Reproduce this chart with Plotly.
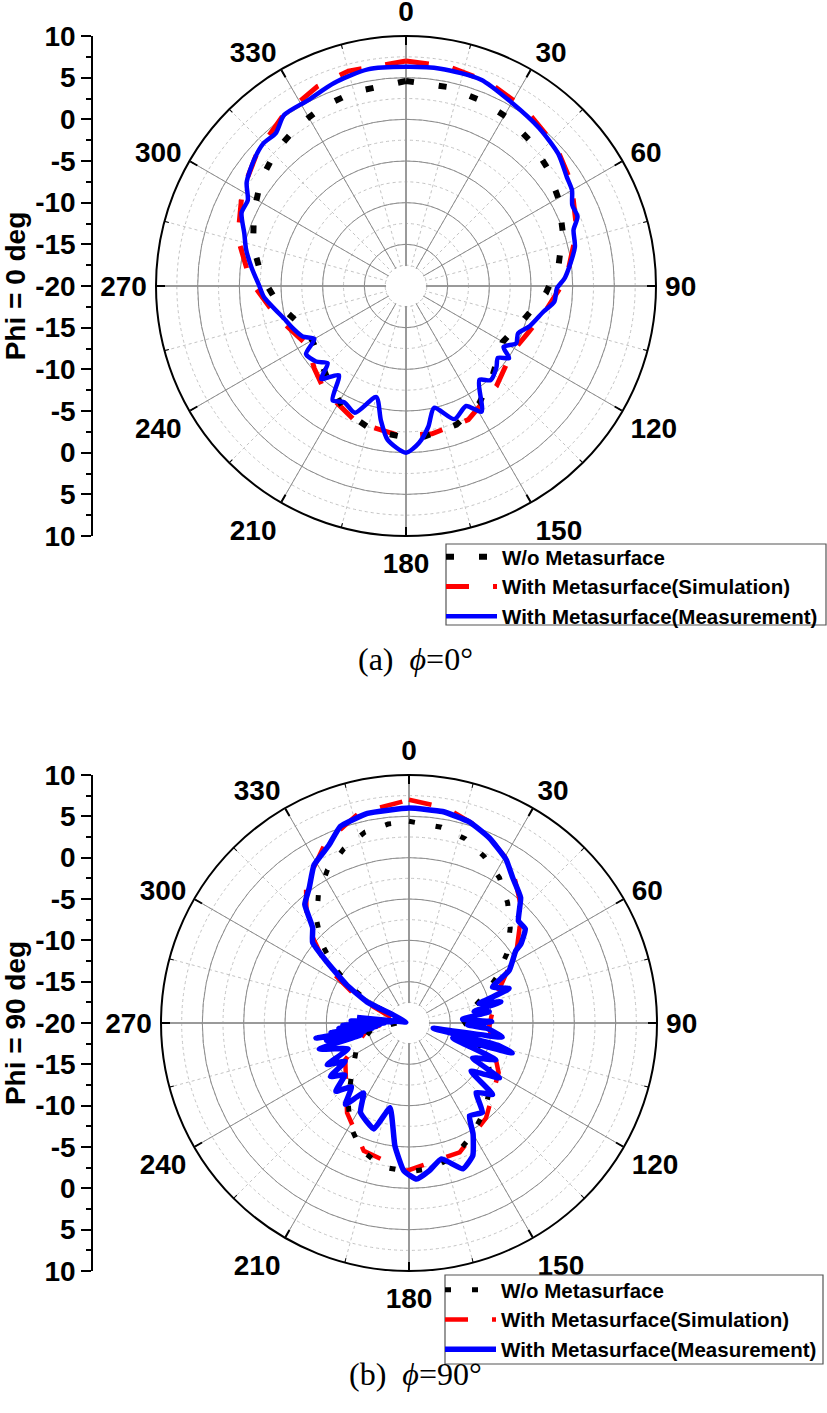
import plotly.graph_objects as go

W, H = 827, 1413

ANGLE_TICKS = [0, 30, 60, 90, 120, 150, 180, 210, 240, 270, 300, 330]
ANGLE_LABELS = [str(a) for a in ANGLE_TICKS]
CROSS_TICKS = [0, 90, 180, 270]
AXIS_VALUES = [10, 5, 0, -5, -10, -15, -20, -25, -30, -35, -40, -45, -50]
AXIS_LABELS = ["10", "5", "0", "-5", "-10", "-15", "-20", "-15", "-10", "-5", "0", "5", "10"]

NAME_BLACK = "W/o Metasurface"
NAME_RED = "With Metasurface(Simulation)"
NAME_BLUE = "With Metasurface(Measurement)"

# phi = 0
a_black_t = [0, 12, 22, 31, 41, 50, 60, 71, 82, 93, 105, 120, 135, 148, 160, 173, 180, 193, 206, 218, 232, 240, 249, 262, 274, 285, 296, 306, 316, 326, 335, 345, 360]
a_black_r = [4.6, 4.4, 4.0, 3.6, 2.9, 2.1, 1.1, -0.1, -1.5, -3.2, -5.2, -6.6, -5.2, -3.4, -2.3, -1.8, -1.8, -2.2, -3.3, -5.1, -6.6, -7.0, -6.6, -4.5, -2.6, -1.0, 0.3, 1.55, 2.5, 3.2, 3.7, 4.1, 4.6]
a_red_t = [0, 11, 22, 34, 47, 58, 72, 87, 101, 112, 122, 138, 155, 170, 182, 200, 218, 228, 239, 257, 272, 286, 300, 312, 324, 336, 345, 360]
a_red_r = [7.0, 6.8, 6.4, 5.6, 4.6, 3.4, 1.55, -0.7, -3.1, -4.4, -5.0, -3.8, -2.3, -2.0, -2.0, -2.6, -4.1, -5.2, -6.2, -4.0, -1.3, 1.0, 2.7, 4.0, 5.2, 6.2, 6.7, 7.0]
a_blue_t = [0, 9, 20, 30, 40, 49, 56, 60, 64, 68, 71.5, 77, 87, 91, 96, 100.5, 108, 113, 117.4, 122, 125, 128, 132, 138, 142, 149, 153.4, 160, 167, 171, 175.3, 180, 186.8, 190.6, 195, 202, 208, 212.7, 217, 222.4, 225.4, 230, 235.8, 240, 244, 249.6, 254, 265.6, 270, 277, 283, 288, 294, 298.5, 303, 309.7, 315, 319.6, 324.5, 332, 340.5, 350, 360]
a_blue_r = [6.3, 6.4, 6.35, 5.4, 4.8, 4.2, 3.3, 3.0, 2.2, 2.2, 1.2, 0.8, -0.9, -1.9, -2.1, -3.2, -4.4, -5.4, -5.1, -6.2, -4.9, -6.0, -5.4, -4.8, -5.7, -2.4, -3.9, -3.0, -5.0, -2.9, -1.1, 0.0, -1.4, -3.6, -6.2, -3.6, -4.2, -3.7, -6.6, -4.9, -6.8, -5.9, -5.5, -7.3, -6.2, -5.5, -5.0, -2.9, -2.4, -1.3, -0.3, 0.4, 1.6, 1.6, 2.8, 3.7, 4.2, 4.1, 5.2, 5.2, 5.85, 6.4, 6.3]

# phi = 90
b_black_t = [0, 9.4, 17, 24.3, 31.9, 39.4, 46.8, 54.7, 62.6, 71.7, 86, 103.4, 116, 128.6, 140, 151, 161, 171, 180, 190.5, 200.6, 209.4, 218, 227.7, 243.6, 260.6, 270, 294, 296.6, 301.6, 306.5, 312, 318, 325, 332, 339.5, 347, 354, 360]
b_black_r = [4.4, 4.0, 3.3, 2.1, 0.7, -1.2, -3.2, -5.5, -8.1, -10.8, -13.5, -11.7, -9.3, -7.4, -5.9, -4.4, -3.0, -2.2, -2.0, -2.3, -3.6, -5.6, -8.0, -10.6, -12.9, -15.4, -18.5, -18.2, -15.0, -11.8, -8.8, -5.9, -3.3, -0.9, 1.0, 2.5, 3.7, 4.2, 4.4]
b_red_t = [0, 10, 21, 33, 45, 56, 73, 92.6, 119, 141, 158.6, 181, 199.5, 214.6, 240, 262, 280, 297, 304.6, 314, 323.4, 335, 346.5, 360]
b_red_r = [7.0, 6.4, 5.0, 2.8, -0.7, -4.3, -9.0, -10.3, -7.6, -5.2, -3.2, -2.1, -3.6, -6.8, -11.1, -15.0, -18.5, -12.7, -7.8, -2.8, 0.9, 4.0, 6.1, 7.0]
b_blue_t = [0, 9, 16.7, 23.5, 30.7, 35.5, 41.7, 47, 51, 54.7, 55.9, 62.3, 66.7, 71, 74.5, 77, 80, 82, 86, 89, 92, 94, 98.6, 102.3, 104, 106.2, 109, 112.9, 118.8, 121.3, 127.8, 130.5, 136, 140.6, 146.9, 150, 154.3, 159.7, 166.6, 172, 177.2, 182, 186.5, 192.6, 198.4, 208.5, 213, 218, 222, 227, 231, 235.8, 239, 243, 247, 253.8, 256, 258, 259.5, 260.8, 262, 263, 264, 265.7, 267, 268, 270, 272, 274, 276, 278, 285, 290, 297, 296.7, 301.4, 306.9, 309.9, 314.7, 318.7, 323.5, 329, 335.8, 340.8, 348.8, 360]
b_blue_r = [6.0, 5.9, 5.4, 4.4, 3.0, 1.6, 0.3, -1.9, -1.9, -3.4, -4.4, -6.3, -9.0, -7.2, -11.2, -8.6, -12.0, -10.2, -13.5, -10.0, -12.9, -10.5, -8.6, -17.0, -9.0, -7.0, -14.4, -8.6, -11.2, -7.2, -10.5, -6.7, -8.3, -6.0, -6.6, -4.5, -2.2, -1.2, -3.1, -2.0, -1.1, -2.1, -5.0, -9.5, -6.5, -7.7, -9.9, -7.5, -9.6, -7.9, -10.0, -8.5, -11.0, -8.9, -12.0, -8.7, -14.0, -9.8, -14.5, -8.6, -15.5, -10.5, -16.0, -11.5, -16.5, -12.0, -17.0, -13.0, -18.0, -14.0, -18.5, -19.5, -19.6, -17.9, -14.3, -11.2, -7.4, -4.8, -3.6, -0.9, 0.3, 2.3, 3.6, 5.2, 5.85, 6.0]

TICKFONT = dict(family="Liberation Sans", size=28, color="black", weight="bold")
LEGFONT = dict(family="Liberation Sans", size=20.5, color="black", weight="bold")


def dom(x0, x1, y0, y1):
    return dict(x=[x0 / W, x1 / W], y=[1 - y1 / H, 1 - y0 / H])


def polar(d, kind):
    grid_r = dict(range=[-20, 10], angle=90, showline=False, showticklabels=False, ticks="",
                  tick0=-20, dtick=2.5 if kind == "minor" else 5, showgrid=kind in ("minor", "major"))
    ang = dict(direction="clockwise", rotation=90, showgrid=kind in ("minor", "major", "cross"),
               showline=False, ticks="", showticklabels=False)
    if kind == "minor":
        grid_r.update(gridcolor="#c4c4c4", griddash="dot", gridwidth=1)
        ang.update(tickmode="linear", tick0=0, dtick=15, gridcolor="#c4c4c4", griddash="dot", gridwidth=1,
                   ticks="inside", ticklen=4, tickcolor="black", tickwidth=1)
    if kind == "cross":
        ang.update(tickmode="array", tickvals=CROSS_TICKS, gridcolor="#a8a8a8", gridwidth=2.2)
    if kind == "major":
        grid_r.update(gridcolor="#8c8c8c", gridwidth=1.2)
        ang.update(tickmode="array", tickvals=ANGLE_TICKS, gridcolor="#8c8c8c", gridwidth=1,
                   showline=True, linecolor="black", linewidth=2,
                   ticks="inside", ticklen=8, tickcolor="black", tickwidth=1.5)
    if kind == "labels":
        ang.update(tickmode="array", tickvals=ANGLE_TICKS, ticktext=ANGLE_LABELS, showticklabels=True,
                   ticks="outside", ticklen=3, tickcolor="rgba(0,0,0,0)", tickfont=TICKFONT)
    return dict(domain=d, bgcolor="rgba(0,0,0,0)", radialaxis=grid_r, angularaxis=ang)


fig = go.Figure()


def anchor(sub):
    fig.add_trace(go.Scatterpolar(r=[None], theta=[None], subplot=sub, showlegend=False, hoverinfo="skip"))


def panel(subs, black, red, blue, legend, bw, bd, rw, ww, smoothing):
    for s in subs[:3]:
        anchor(s)
    major_sub = subs[3]
    fig.add_trace(go.Scatterpolar(r=[-20], theta=[0], subplot=major_sub, mode="markers", showlegend=False,
                                  marker=dict(color="white", size=40), cliponaxis=False, hoverinfo="skip"))
    fig.add_trace(go.Scatterpolar(theta=red[0], r=red[1], subplot=major_sub, mode="lines", name=NAME_RED,
                                  line=dict(color="#ff0000", width=rw, dash="23px,24px"), legend=legend, legendrank=2))
    fig.add_trace(go.Scatterpolar(theta=black[0], r=black[1], subplot=major_sub, mode="lines", name=NAME_BLACK,
                                  line=dict(color="black", width=bw, dash=bd), legend=legend, legendrank=1))
    fig.add_trace(go.Scatterpolar(theta=blue[0], r=blue[1], subplot=major_sub, mode="lines", name=NAME_BLUE,
                                  line=dict(color="#0000ff", width=ww, shape="spline", smoothing=smoothing),
                                  legend=legend, legendrank=3))


panel(["polar", "polar2", "polar3", "polar4"], (a_black_t, a_black_r), (a_red_t, a_red_r), (a_blue_t, a_blue_r), "legend", 6, "8px,25px", 5, 4.5, 0.7)
panel(["polar5", "polar6", "polar7", "polar8"], (b_black_t, b_black_r), (b_red_t, b_red_r), (b_blue_t, b_blue_r), "legend2", 5, "6px,21px", 4.5, 5.5, 0.4)

d1 = dom(156, 656, 36, 536)
d2 = dom(161, 657, 775, 1271)

# side scales
fig.add_trace(go.Scatter(x=[None], y=[None], xaxis="x", yaxis="y", showlegend=False, hoverinfo="skip"))
fig.add_trace(go.Scatter(x=[None], y=[None], xaxis="x2", yaxis="y2", showlegend=False, hoverinfo="skip"))


def side(d, title):
    return dict(domain=d["y"], range=[-50, 10], anchor="free", position=92 / W, side="left", automargin=False,
                tickmode="array", tickvals=AXIS_VALUES, ticktext=AXIS_LABELS, tickfont=TICKFONT,
                ticks="outside", ticklen=10, tickwidth=1.5, tickcolor="black",
                showline=True, linecolor="black", linewidth=1.5, showgrid=False, zeroline=False,
                minor=dict(ticks="outside", ticklen=5, tick0=0, dtick=2.5, tickcolor="black", tickwidth=1.5, showgrid=False),
                title=dict(text=title, font=TICKFONT, standoff=0))


hidden = dict(visible=False, domain=[0, 1])


def legend(x0, y0):
    return dict(x=x0 / W, y=1 - y0 / H, xanchor="left", yanchor="top", bgcolor="rgba(0,0,0,0)",
                borderwidth=0, font=LEGFONT, itemwidth=51, traceorder="normal",
                itemclick=False, itemdoubleclick=False)


def box(x0, y0, x1, y1):
    return dict(type="rect", xref="paper", yref="paper", x0=x0 / W, x1=x1 / W, y0=1 - y1 / H, y1=1 - y0 / H,
                line=dict(color="#555555", width=1.2))


fig.update_layout(
    width=W, height=H, margin=dict(l=0, r=0, t=0, b=0, autoexpand=False), paper_bgcolor="white", plot_bgcolor="rgba(0,0,0,0)",
    polar=polar(d1, "labels"), polar2=polar(d1, "minor"), polar3=polar(d1, "cross"), polar4=polar(d1, "major"),
    polar5=polar(d2, "labels"), polar6=polar(d2, "minor"), polar7=polar(d2, "cross"), polar8=polar(d2, "major"),
    xaxis=hidden, xaxis2=hidden,
    yaxis=side(d1, "Phi = 0 deg"), yaxis2=side(d2, "Phi = 90 deg"),
    legend=legend(441, 537), legend2=legend(440, 1270),
    shapes=[box(446, 544, 826, 625), box(445, 1275, 823, 1364)],
    showlegend=True,
    annotations=[
        dict(text="(a)  <i>ϕ</i>=0°", x=415 / W, y=1 - 659 / H, xref="paper", yref="paper", showarrow=False,
             font=dict(family="Liberation Serif", size=32, color="black")),
        dict(text="(b)  <i>ϕ</i>=90°", x=415 / W, y=1 - 1394 / H, xref="paper", yref="paper", showarrow=False,
             font=dict(family="Liberation Serif", size=32, color="black")),
    ],
)

fig.write_html("out.html", config={"displayModeBar": False}, post_script="document.body.style.margin='0';")
